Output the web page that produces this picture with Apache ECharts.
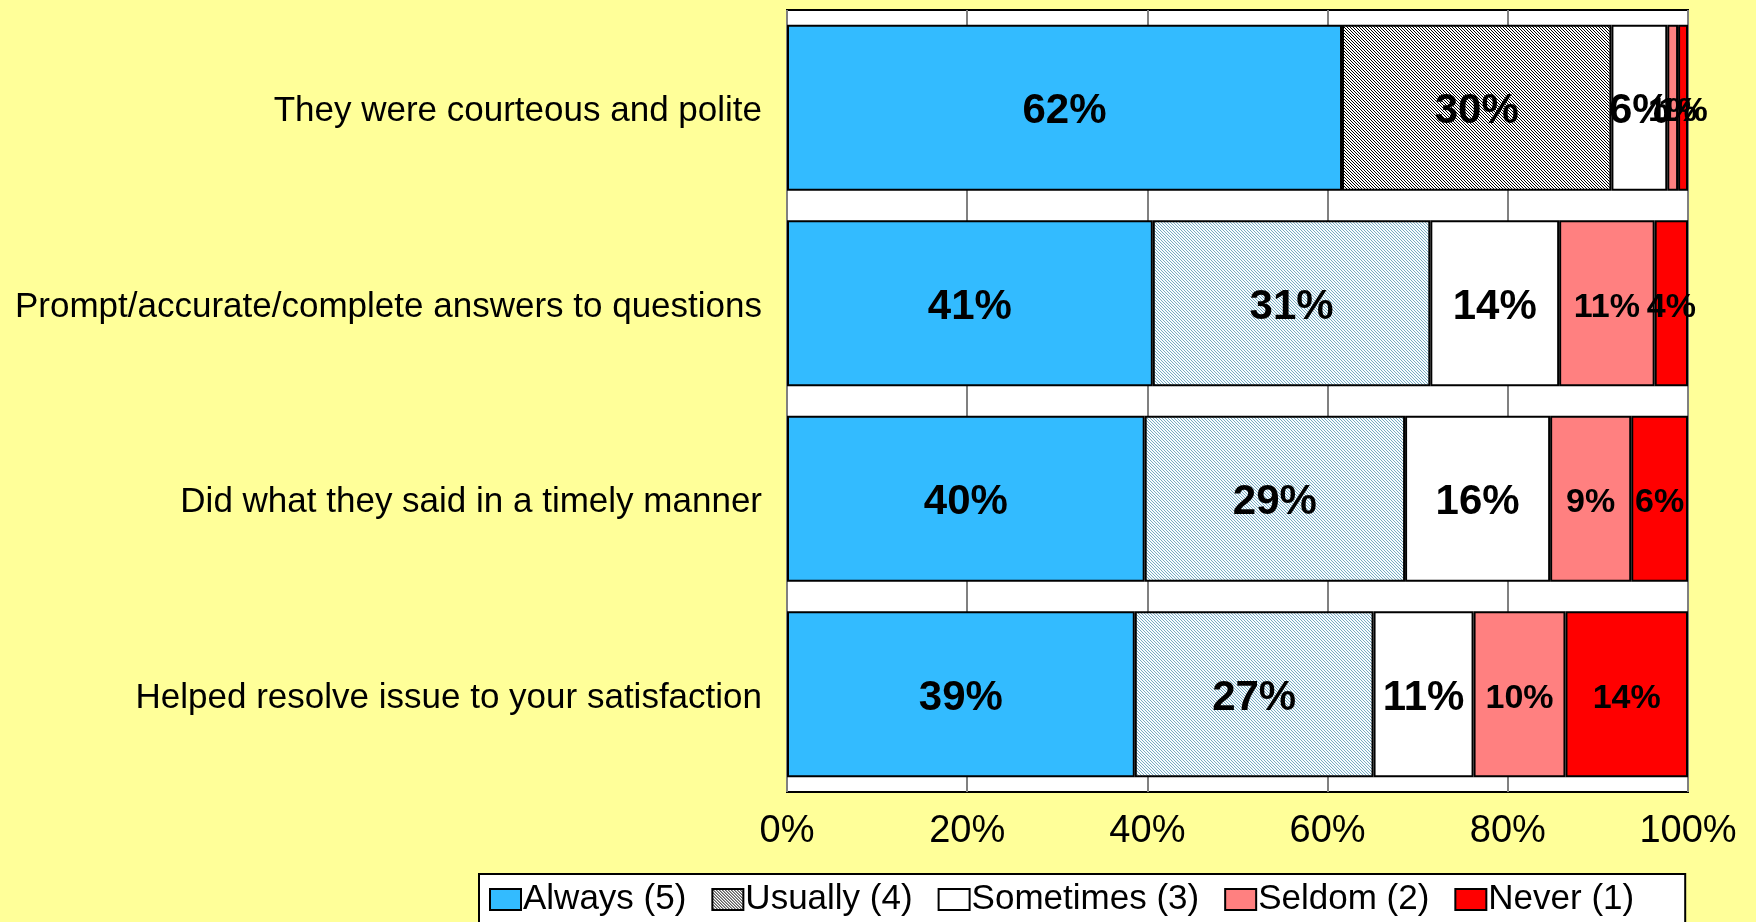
<!DOCTYPE html>
<html>
<head>
<meta charset="utf-8">
<script src="https://cdn.jsdelivr.net/npm/echarts@6/dist/echarts.min.js"></script>
<style>
  html, body { margin: 0; padding: 0; background: #ffff99; }
  #chart { width: 1756px; height: 922px; }
</style>
</head>
<body>
<div id="chart"></div>
<script>
var categories = [
    'They were courteous and polite',
    'Prompt/accurate/complete answers to questions',
    'Did what they said in a timely manner',
    'Helped resolve issue to your satisfaction'
];
var seriesNames = ['Always (5)', 'Usually (4)', 'Sometimes (3)', 'Seldom (2)', 'Never (1)'];
var always    = [61.6, 40.6, 39.7, 38.6];
var usually   = [29.9, 30.8, 28.9, 26.5];
var sometimes = [6.2, 14.3, 16.1, 11.1];
var seldom    = [1.2, 10.6, 9.0, 10.2];
var never     = [1.1, 3.7, 6.3, 13.6];
var xTicks = [0, 20, 40, 60, 80, 100];

var font = 'Liberation Sans, Arial, sans-serif';

// hatch fills for the "Usually" segments
function hatch(fg, bg) {
    var c = document.createElement('canvas');
    c.width = 3; c.height = 3;
    var ctx = c.getContext('2d');
    ctx.fillStyle = bg;
    ctx.fillRect(0, 0, 3, 3);
    ctx.fillStyle = fg;
    for (var i = 0; i < 3; i++) ctx.fillRect(i, i, 1, 1);
    return { image: c, repeat: 'repeat' };
}
var darkHatch = hatch('#000000', '#ffffff');
var lightHatch = hatch('#78aac0', '#f6fcff');

var colors = ['#33bbff', darkHatch, '#ffffff', '#ff8080', '#ff0000'];
var values = [always, usually, sometimes, seldom, never];
var labelSize = [42, 42, 42, 34, 34];

var series = values.map(function (vals, i) {
    return {
        name: seriesNames[i],
        type: 'bar',
        stack: 'total',
        barCategoryGap: '15%',
        itemStyle: { color: colors[i], borderColor: '#000', borderWidth: 2 },
        label: {
            show: true,
            position: 'inside',
            offset: [0, 4],
            color: '#000',
            fontFamily: font,
            fontWeight: 'bold',
            fontSize: labelSize[i],
            formatter: function (p) { return Math.round(p.value) + '%'; }
        },
        data: vals.map(function (v, j) {
            if (i === 1 && j > 0) return { value: v, itemStyle: { color: lightHatch } };
            return v;
        })
    };
});

var chart = echarts.init(document.getElementById('chart'));
chart.setOption({
    backgroundColor: '#ffff99',
    animation: false,
    grid: {
        left: 787, right: 68, top: 10, bottom: 130,
        show: true, backgroundColor: '#fff', borderColor: '#000', borderWidth: 2
    },
    legend: {
        data: seriesNames,
        icon: 'rect',
        left: 479, top: 874,
        padding: [8, 51, 20, 10],
        backgroundColor: '#fff',
        borderColor: '#000',
        borderWidth: 2,
        itemWidth: 31, itemHeight: 21, itemGap: 25,
        textStyle: { fontFamily: font, fontSize: 35, color: '#000', padding: [0, 0, 0, -3] }
    },
    xAxis: {
        type: 'value',
        min: xTicks[0], max: xTicks[xTicks.length - 1], interval: 20,
        axisLine: { show: false },
        axisTick: { show: false },
        splitLine: { lineStyle: { color: '#808080', width: 2 } },
        axisLabel: { fontFamily: font, fontSize: 38, color: '#000', margin: 21, formatter: '{value}%' }
    },
    yAxis: {
        type: 'category',
        inverse: true,
        data: categories,
        axisLine: { show: false },
        axisTick: { show: false },
        axisLabel: {
            margin: 25,
            formatter: function (v) { return '{c|' + v + '}'; },
            rich: { c: { fontFamily: font, fontSize: 35, color: '#000', padding: [8, 0, 0, 0] } }
        }
    },
    series: series
});
</script>
</body>
</html>
